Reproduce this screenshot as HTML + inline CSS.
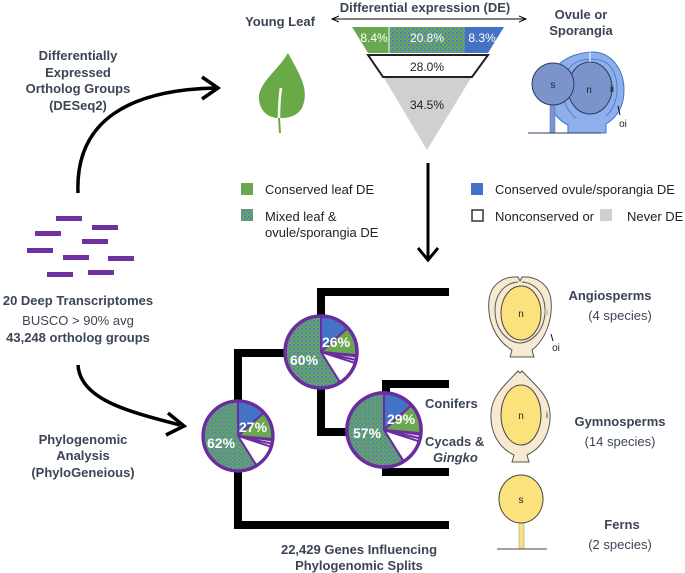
<!DOCTYPE html>
<html><head><meta charset="utf-8"><style>
html,body{margin:0;padding:0;background:#fff}
svg{display:block}
text{font-family:"Liberation Sans",Arial,sans-serif;fill:#3b4556}
.b{font-weight:bold}
</style></head><body>
<svg width="685" height="573" viewBox="0 0 685 573" xmlns="http://www.w3.org/2000/svg">
<defs>
<pattern id="mx" width="4" height="4" patternUnits="userSpaceOnUse">
<rect width="4" height="4" fill="#6aa84f"/>
<rect x="0" y="0" width="2" height="2" fill="#4f7fc6"/>
<rect x="2" y="2" width="1.5" height="1.5" fill="#4f7fc6"/>
</pattern>
<marker id="ah" markerWidth="8" markerHeight="8" refX="7" refY="4" orient="auto" markerUnits="userSpaceOnUse">
<path d="M0,1 L7,4 L0,7" fill="none" stroke="#000" stroke-width="1"/>
</marker>
<g id="pie">
<circle r="36" fill="#fff"/>
<g stroke="#6a2c9e" stroke-width="2" stroke-linejoin="round">
<path d="M0 0 L0 -36 A36 36 0 0 1 26.7 -24.1 Z" fill="#4472c4"/>
<path d="M0 0 L26.7 -24.1 A36 36 0 0 1 35.9 3.1 Z" fill="#6aa84f"/>
<path d="M0 0 L35.7 4.4 A36 36 0 0 1 35.1 8.1 Z" fill="#d0d0d0"/>
<path d="M0 0 L34.2 11.1 A36 36 0 0 1 19.1 30.5 Z" fill="#fff"/>
<path d="M0 0 L19.1 30.5 A36 36 0 1 1 0 -36 Z" fill="url(#mx)"/>
</g>
<circle r="36" fill="none" stroke="#6a2c9e" stroke-width="3.5"/>
</g>
</defs>

<!-- top header -->
<text x="425" y="12" class="b" font-size="13" text-anchor="middle">Differential expression (DE)</text>
<line x1="332" y1="19" x2="526" y2="19" stroke="#000" stroke-width="1" marker-end="url(#ah)"/>
<line x1="526" y1="19" x2="332" y2="19" stroke="#000" stroke-width="1" marker-end="url(#ah)"/>
<text x="280" y="26" class="b" font-size="13" text-anchor="middle">Young Leaf</text>
<text x="581" y="19" class="b" font-size="13" text-anchor="middle">Ovule or</text>
<text x="581" y="35" class="b" font-size="13" text-anchor="middle">Sporangia</text>

<!-- funnel -->
<polygon points="352,27 389,27 389,53 368,53" fill="#6aa84f"/>
<rect x="389" y="27" width="76" height="26" fill="url(#mx)"/>
<polygon points="465,27 504,27 488,53 465,53" fill="#4472c4"/>
<line x1="389" y1="27" x2="389" y2="53" stroke="#fff" stroke-width="1"/>
<polygon points="368,55 488,55 472,77 383,77" fill="#fff" stroke="#222" stroke-width="2"/>
<polygon points="384,78 471,78 427,150" fill="#d0d0d0"/>
<text x="374" y="42" font-size="12" text-anchor="middle" style="fill:#fff">8.4%</text>
<text x="427" y="42" font-size="12" text-anchor="middle" style="fill:#fff">20.8%</text>
<text x="482" y="42" font-size="12" text-anchor="middle" style="fill:#fff">8.3%</text>
<text x="427" y="71" font-size="12" text-anchor="middle" style="fill:#222">28.0%</text>
<text x="427" y="109" font-size="12" text-anchor="middle" style="fill:#222">34.5%</text>

<!-- leaf -->
<path d="M288,53 C300,75 310,90 302,108 C296,118 285,118 280,118 L281,133 L279,133 L278,118 C266,118 258,108 259,95 C262,80 278,70 288,53 Z" fill="#6aaa46"/>
<path d="M281,88 C279,100 279,112 279,118" fill="none" stroke="#fff" stroke-width="2.5"/>

<!-- ovule/sporangia blue -->
<g>
<path d="M568,133 L568,125 C552,117 546,100 548,85 C552,62 572,53 592,52 C612,52 624,70 624,90 C624,108 616,118 606,124 L606,133 Z" fill="#8db0ec" stroke="#4472c4" stroke-width="1"/>
<path d="M576,118 C560,106 558,80 572,65 C582,57 602,57 610,66 C620,78 620,104 606,116" fill="none" stroke="#4472c4" stroke-width="0.8"/>
<ellipse cx="590" cy="88" rx="22" ry="26" fill="#7b94cc" stroke="#2d3b63" stroke-width="1"/>
<line x1="590" y1="52" x2="590" y2="62" stroke="#fff" stroke-width="1"/>
<rect x="550" y="95" width="5" height="38" fill="#7b94cc" stroke="#4472c4" stroke-width="0.5"/>
<circle cx="553" cy="84" r="21" fill="#7b94cc" stroke="#2d3b63" stroke-width="1"/>
<line x1="528" y1="133" x2="601" y2="133" stroke="#2d3b63" stroke-width="1"/>
<line x1="618" y1="106" x2="620" y2="115" stroke="#111" stroke-width="1"/>
<text x="553" y="88" font-size="10" text-anchor="middle" style="fill:#222">s</text>
<text x="589" y="93" font-size="10" text-anchor="middle" style="fill:#222">n</text>
<text x="612" y="92" font-size="9" text-anchor="middle" style="fill:#222">ii</text>
<text x="623" y="127" font-size="10" text-anchor="middle" style="fill:#222">oi</text>
</g>

<!-- legend -->
<rect x="241" y="183" width="12" height="12" fill="#6aa84f"/>
<text x="265" y="194" font-size="13" style="fill:#222">Conserved leaf DE</text>
<rect x="241" y="209" width="12" height="12" fill="url(#mx)"/>
<text x="265" y="221" font-size="13" style="fill:#222">Mixed leaf &amp;</text>
<text x="265" y="237" font-size="13" style="fill:#222">ovule/sporangia DE</text>
<rect x="471" y="183" width="12" height="12" fill="#4472c4"/>
<text x="495" y="194" font-size="13" style="fill:#222">Conserved ovule/sporangia DE</text>
<rect x="472" y="210" width="11" height="11" fill="#fff" stroke="#333" stroke-width="1.5"/>
<text x="495" y="221" font-size="13" style="fill:#222">Nonconserved or</text>
<rect x="600" y="209" width="12" height="12" fill="#d0d0d0"/>
<text x="627" y="221" font-size="13" style="fill:#222">Never DE</text>

<!-- down arrow -->
<line x1="428" y1="163" x2="428" y2="258" stroke="#000" stroke-width="3"/>
<path d="M418,248 L428,260 L438,248" fill="none" stroke="#000" stroke-width="3"/>

<!-- left text -->
<g font-size="13" text-anchor="middle">
<text x="78" y="60" class="b">Differentially</text>
<text x="78" y="77" class="b">Expressed</text>
<text x="78" y="93" class="b">Ortholog Groups</text>
<text x="78" y="110" class="b">(DESeq2)</text>
<text x="78" y="305" class="b">20 Deep Transcriptomes</text>
<text x="78" y="342" class="b">43,248 ortholog groups</text>
<text x="83" y="444" class="b">Phylogenomic</text>
<text x="83" y="460" class="b">Analysis</text>
<text x="83" y="477" class="b">(PhyloGeneious)</text>
<text x="78" y="325">BUSCO &gt; 90% avg</text>
</g>

<!-- curved arrows -->
<path d="M78,193 C75,120 130,90 215,88" fill="none" stroke="#000" stroke-width="3.5"/>
<path d="M202,77 L218,88 L202,99" fill="none" stroke="#000" stroke-width="3.5"/>
<path d="M78,365 C80,400 130,412 180,425" fill="none" stroke="#000" stroke-width="3.5"/>
<path d="M168,413 L184,426 L166,435" fill="none" stroke="#000" stroke-width="3.5"/>

<!-- purple bars -->
<g fill="#6f31a0">
<rect x="56" y="216" width="26" height="5"/>
<rect x="92" y="225" width="26" height="5"/>
<rect x="35" y="231" width="26" height="5"/>
<rect x="82" y="239" width="26" height="5"/>
<rect x="27" y="248" width="26" height="5"/>
<rect x="63" y="255" width="26" height="5"/>
<rect x="108" y="256" width="26" height="5"/>
<rect x="47" y="272" width="26" height="5"/>
<rect x="88" y="270" width="26" height="5"/>
</g>

<!-- tree -->
<g stroke="#000" stroke-width="8" fill="none" stroke-linecap="butt">
<path d="M238,402 L238,353 L290,353"/>
<path d="M321,318 L321,292 L449,292"/>
<path d="M321,388 L321,432 L350,432"/>
<path d="M386,393 L386,384 L449,384"/>
<path d="M386,466 L386,472 L449,472"/>
<path d="M238,470 L238,525 L449,525"/>
</g>

<use href="#pie" transform="translate(238,436) scale(0.97)"/>
<use href="#pie" transform="translate(321,352)"/>
<use href="#pie" transform="translate(384,430) scale(1.03)"/>
<g font-size="14">
<text x="207" y="448" class="b" style="fill:#fff">62%</text>
<text x="239" y="432" class="b" style="fill:#fff">27%</text>
<text x="290" y="365" class="b" style="fill:#fff">60%</text>
<text x="322" y="347" class="b" style="fill:#fff">26%</text>
<text x="353" y="438" class="b" style="fill:#fff">57%</text>
<text x="387" y="424" class="b" style="fill:#fff">29%</text>
</g>
<text x="425" y="408" class="b" font-size="13">Conifers</text>
<text x="425" y="446" class="b" font-size="13">Cycads &amp;</text>
<text x="433" y="462" class="b" font-size="13" font-style="italic">Gingko</text>
<text x="359" y="554" class="b" font-size="13" text-anchor="middle">22,429 Genes Influencing</text>
<text x="359" y="570" class="b" font-size="13" text-anchor="middle">Phylogenomic Splits</text>

<!-- angiosperm ovule -->
<g stroke="#555" stroke-width="1" fill="#f7e9d2">
<path d="M510,357 L512,350 C495,340 487,320 489,300 C491,283 505,276 518,277 L520,281 L522,277 C535,276 549,283 551,300 C553,320 545,340 532,350 L534,357 Z"/>
<path d="M518,282 C504,283 495,295 495,310 C495,330 507,342 520,343 M522,282 C536,283 545,295 545,310 C545,330 533,342 520,343" fill="none"/>
<ellipse cx="521" cy="313" rx="20" ry="27" fill="#fbe27d" stroke="#444"/>
</g>
<line x1="551" y1="334" x2="553" y2="341" stroke="#111" stroke-width="1"/>
<text x="521" y="317" font-size="10" text-anchor="middle" style="fill:#222">n</text>
<text x="546" y="315" font-size="9" text-anchor="middle" style="fill:#999">ii</text>
<text x="556" y="351" font-size="10" text-anchor="middle" style="fill:#222">oi</text>
<text x="610" y="300" class="b" font-size="13" text-anchor="middle">Angiosperms</text>
<text x="620" y="320" font-size="13" text-anchor="middle">(4 species)</text>

<!-- gymnosperm ovule -->
<g stroke="#555" stroke-width="1" fill="#f7e9d2">
<path d="M512,462 L514,455 C497,447 490,430 491,413 C492,395 505,385 518,371 L520,373 L522,371 C535,385 549,395 550,413 C551,430 544,447 527,455 L529,462 Z"/>
<ellipse cx="521" cy="415" rx="20" ry="30" fill="#fbe27d" stroke="#444"/>
</g>
<text x="521" y="419" font-size="10" text-anchor="middle" style="fill:#222">n</text>
<text x="547" y="418" font-size="9" text-anchor="middle" style="fill:#222">i</text>
<text x="620" y="426" class="b" font-size="13" text-anchor="middle">Gymnosperms</text>
<text x="620" y="446" font-size="13" text-anchor="middle">(14 species)</text>

<!-- fern sporangium -->
<rect x="519" y="520" width="5" height="29" fill="#fbe27d" stroke="#888" stroke-width="0.5"/>
<ellipse cx="521" cy="499" rx="22" ry="24" fill="#fbe27d" stroke="#444" stroke-width="1"/>
<line x1="497" y1="549" x2="547" y2="549" stroke="#444" stroke-width="1"/>
<text x="521" y="503" font-size="10" text-anchor="middle" style="fill:#222">s</text>
<text x="622" y="529" class="b" font-size="13" text-anchor="middle">Ferns</text>
<text x="620" y="549" font-size="13" text-anchor="middle">(2 species)</text>
</svg>
</body></html>
